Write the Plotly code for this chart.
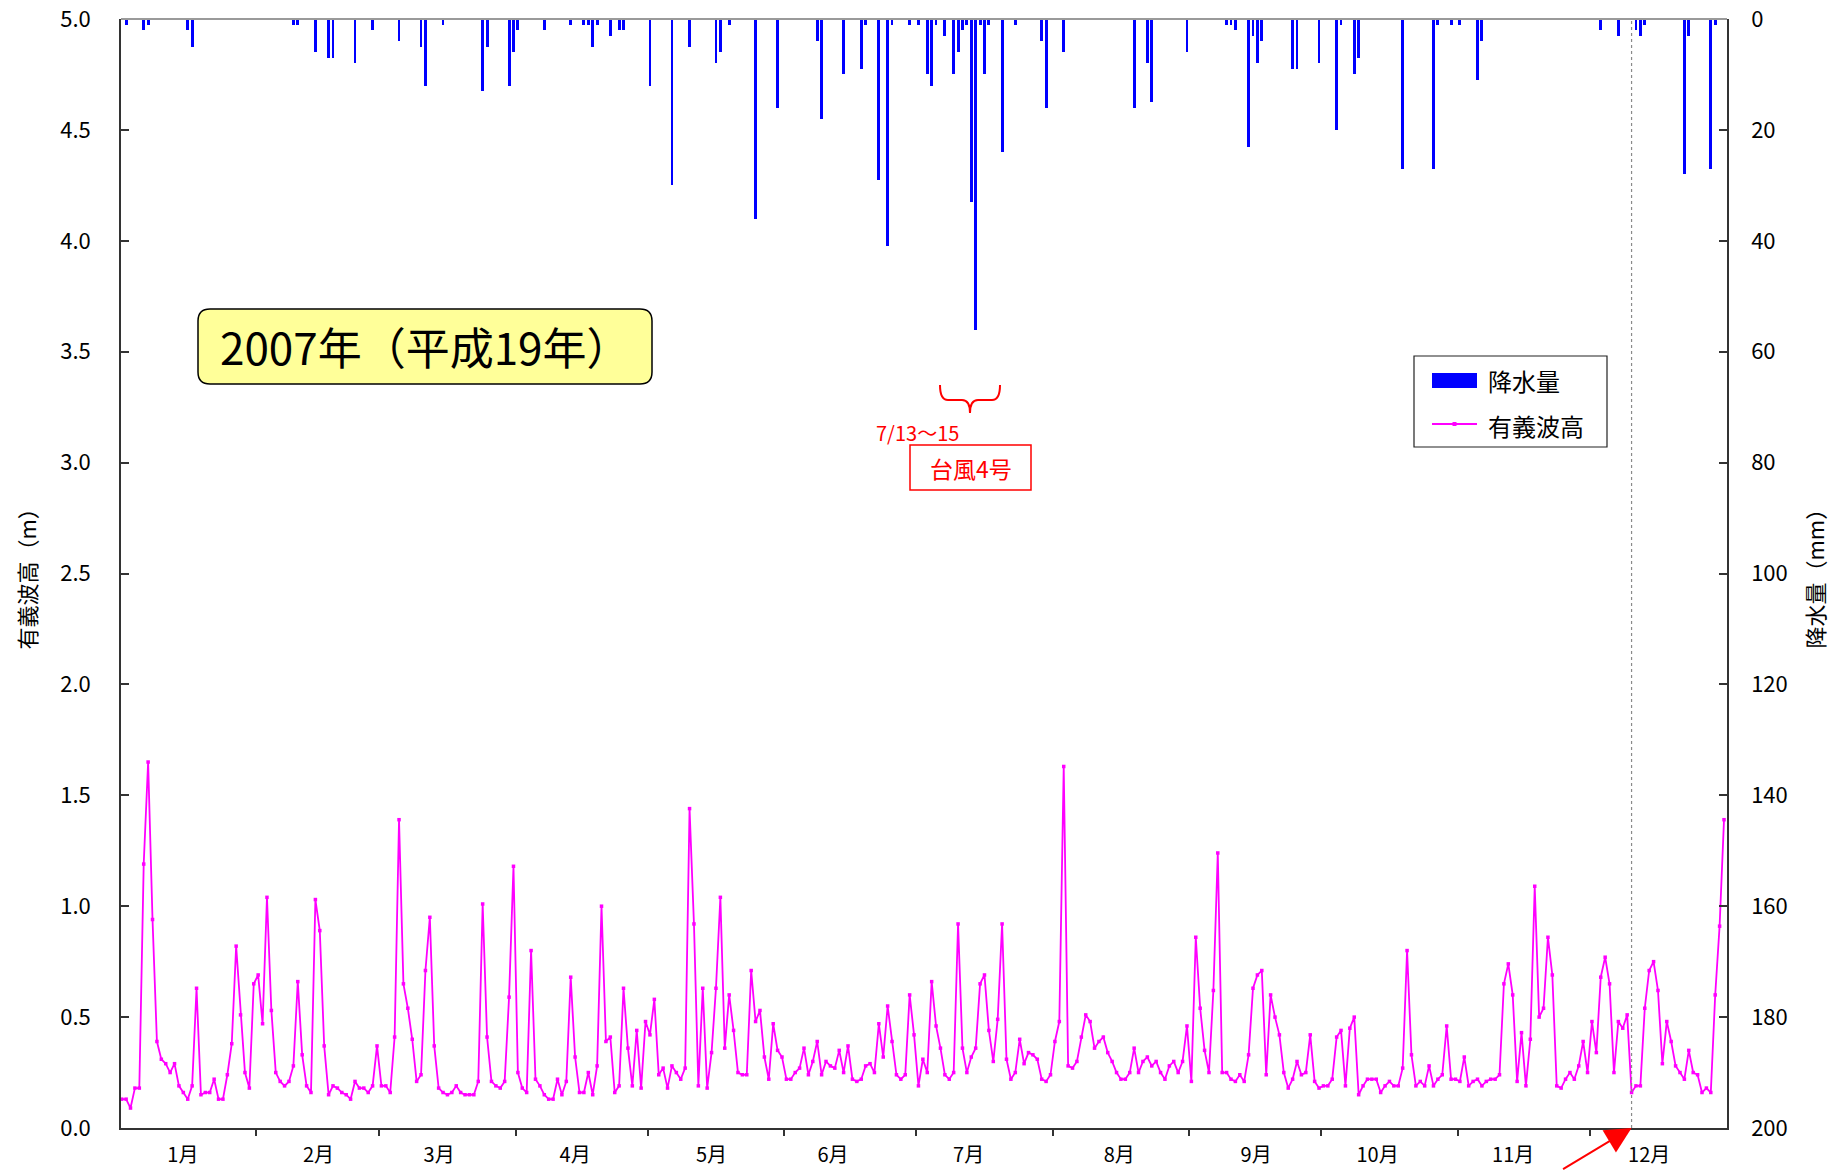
import plotly.graph_objects as go

# ---------------- data ----------------
month_labels = ["1月", "2月", "3月", "4月", "5月", "6月", "7月", "8月", "9月", "10月", "11月", "12月"]
month_days = [31, 28, 31, 30, 31, 30, 31, 31, 30, 31, 30, 31]
# where each month label sits (day-of-year position, as placed in the original)
month_label_pos = [13.9, 44.7, 72.1, 103.0, 134.0, 161.6, 192.4, 226.6, 257.7, 285.3, 316.1, 347.0]

# daily significant wave height (m), 2007-01-01 .. 2007-12-31
wave_height = [
    0.13, 0.13, 0.09, 0.18, 0.18, 1.19, 1.65, 0.94, 0.39, 0.31,
    0.29, 0.25, 0.29, 0.19, 0.16, 0.13, 0.19, 0.63, 0.15, 0.16,
    0.16, 0.22, 0.13, 0.13, 0.24, 0.38, 0.82, 0.51, 0.25, 0.18,
    0.65, 0.69, 0.47, 1.04, 0.53, 0.25, 0.21, 0.19, 0.21, 0.28,
    0.66, 0.33, 0.19, 0.16, 1.03, 0.89, 0.37, 0.15, 0.19, 0.18,
    0.16, 0.15, 0.13, 0.21, 0.18, 0.18, 0.16, 0.19, 0.37, 0.19,
    0.19, 0.16, 0.41, 1.39, 0.65, 0.54, 0.40, 0.21, 0.24, 0.71,
    0.95, 0.37, 0.18, 0.16, 0.15, 0.16, 0.19, 0.16, 0.15, 0.15,
    0.15, 0.21, 1.01, 0.41, 0.21, 0.19, 0.18, 0.21, 0.59, 1.18,
    0.25, 0.18, 0.16, 0.80, 0.22, 0.19, 0.15, 0.13, 0.13, 0.22,
    0.15, 0.21, 0.68, 0.32, 0.16, 0.16, 0.25, 0.15, 0.28, 1.00,
    0.39, 0.41, 0.16, 0.19, 0.63, 0.36, 0.19, 0.44, 0.18, 0.48,
    0.42, 0.58, 0.24, 0.27, 0.18, 0.28, 0.25, 0.22, 0.27, 1.44,
    0.92, 0.19, 0.63, 0.18, 0.34, 0.63, 1.04, 0.36, 0.60, 0.44,
    0.25, 0.24, 0.24, 0.71, 0.48, 0.53, 0.32, 0.22, 0.47, 0.35,
    0.32, 0.22, 0.22, 0.25, 0.27, 0.36, 0.24, 0.30, 0.39, 0.24,
    0.30, 0.28, 0.27, 0.35, 0.25, 0.37, 0.22, 0.21, 0.22, 0.28,
    0.29, 0.25, 0.47, 0.32, 0.55, 0.39, 0.24, 0.22, 0.24, 0.60,
    0.42, 0.19, 0.31, 0.25, 0.66, 0.46, 0.36, 0.24, 0.22, 0.25,
    0.92, 0.36, 0.25, 0.32, 0.36, 0.65, 0.69, 0.44, 0.30, 0.49,
    0.92, 0.31, 0.22, 0.25, 0.40, 0.29, 0.34, 0.33, 0.31, 0.22,
    0.21, 0.24, 0.39, 0.48, 1.63, 0.28, 0.27, 0.30, 0.41, 0.51,
    0.48, 0.36, 0.39, 0.41, 0.34, 0.30, 0.25, 0.22, 0.22, 0.25,
    0.36, 0.25, 0.30, 0.32, 0.28, 0.30, 0.25, 0.22, 0.28, 0.30,
    0.25, 0.30, 0.46, 0.21, 0.86, 0.54, 0.35, 0.25, 0.62, 1.24,
    0.25, 0.25, 0.22, 0.21, 0.24, 0.21, 0.33, 0.63, 0.69, 0.71,
    0.24, 0.60, 0.50, 0.42, 0.25, 0.18, 0.22, 0.30, 0.24, 0.25,
    0.42, 0.21, 0.18, 0.19, 0.19, 0.22, 0.41, 0.44, 0.19, 0.45,
    0.50, 0.15, 0.19, 0.22, 0.22, 0.22, 0.16, 0.19, 0.21, 0.19,
    0.19, 0.27, 0.80, 0.33, 0.19, 0.21, 0.19, 0.28, 0.19, 0.22,
    0.24, 0.46, 0.22, 0.22, 0.21, 0.32, 0.19, 0.21, 0.22, 0.19,
    0.21, 0.22, 0.22, 0.24, 0.65, 0.74, 0.60, 0.21, 0.43, 0.19,
    0.40, 1.09, 0.50, 0.54, 0.86, 0.69, 0.19, 0.18, 0.22, 0.25,
    0.22, 0.28, 0.39, 0.25, 0.48, 0.34, 0.68, 0.77, 0.65, 0.25,
    0.48, 0.45, 0.51, 0.16, 0.19, 0.19, 0.54, 0.71, 0.75, 0.62,
    0.29, 0.48, 0.39, 0.28, 0.25, 0.22, 0.35, 0.25, 0.24, 0.16,
    0.18, 0.16, 0.60, 0.91, 1.39,
]

# daily precipitation (mm): day-of-year index (0 = Jan 1) and amount
rain_day = [1, 5, 6, 15, 16, 39, 40, 44, 47, 48, 53, 57, 63, 68, 69, 73,
            82, 83, 88, 89, 90, 96, 102, 105, 106, 107, 108, 111, 113, 114,
            120, 125, 129, 135, 136, 138, 144, 149, 158, 159, 164, 168, 169,
            172, 174, 175, 179, 181, 183, 184, 185, 187, 189, 190, 191, 192,
            193, 194, 195, 196, 197, 200, 203, 209, 210, 214, 230, 233, 234,
            242, 251, 252, 253, 256, 257, 258, 259, 266, 267, 272, 276, 277,
            280, 281, 291, 298, 299, 302, 304, 308, 309, 336, 340, 344, 345,
            346, 355, 356, 361, 362]
rain_mm = [1.0, 2.0, 1.0, 2.0, 5.0, 1.0, 1.0, 6.0, 7.0, 7.0, 8.0, 2.0, 4.0, 5.0, 12.0, 1.0,
           13.0, 5.0, 12.0, 6.0, 2.0, 2.0, 1.0, 1.0, 1.0, 5.0, 1.0, 3.0, 2.0, 2.0,
           12.0, 30.0, 5.0, 8.0, 6.0, 1.0, 36.0, 16.0, 4.0, 18.0, 10.0, 9.0, 1.0,
           29.0, 41.0, 1.0, 1.0, 1.0, 10.0, 12.0, 1.0, 3.0, 10.0, 6.0, 2.0, 1.0,
           33.0, 56.0, 1.0, 10.0, 1.0, 24.0, 1.0, 4.0, 16.0, 6.0, 16.0, 8.0, 15.0,
           6.0, 1.0, 1.0, 2.0, 23.0, 3.0, 8.0, 4.0, 9.0, 9.0, 8.0, 20.0, 1.0,
           10.0, 7.0, 27.0, 27.0, 1.0, 1.0, 1.0, 11.0, 4.0, 2.0, 3.0, 2.0, 3.0,
           1.0, 28.0, 3.0, 27.0, 1.0]

wave_left_ticks = [0.0, 0.5, 1.0, 1.5, 2.0, 2.5, 3.0, 3.5, 4.0, 4.5, 5.0]
rain_right_ticks = [0, 20, 40, 60, 80, 100, 120, 140, 160, 180, 200]
marker_day = 343           # dotted reference line (12/10)
typhoon_label = "台風4号"
typhoon_dates = "7/13～15"
title_text = "2007年（平成19年）"

# ---------------- layout geometry ----------------
W, H = 1830, 1170
ML, MR, MT, MB = 121, 103, 19, 42
PW, PH = W - ML - MR, H - MT - MB
XR = [-0.16, 364.68]
YR = [0, 5]


def px_x(X):
    return XR[0] + (X - ML) / PW * (XR[1] - XR[0])


def px_y(Y):
    return YR[0] + (MT + PH - Y) / PH * (YR[1] - YR[0])


days = list(range(len(wave_height)))
starts = []
s = 0
for d in month_days:
    starts.append(s)
    s += d
month_bounds = [st - 0.5 for st in starts[1:]]

FONT = "Noto Sans CJK JP, Noto Sans, sans-serif"

fig = go.Figure()
fig.add_trace(go.Bar(x=rain_day, y=rain_mm, yaxis="y2", name="降水量",
                     marker=dict(color="#0000FF", line=dict(width=0)),
                     width=0.65, showlegend=False))
fig.add_trace(go.Scatter(x=days, y=wave_height, name="有義波高", mode="lines+markers",
                         line=dict(color="#FF00FF", width=1.8),
                         marker=dict(symbol="square", size=3.5, color="#FF00FF"),
                         showlegend=False))

axis_col = "#333333"
fig.update_layout(
    width=W, height=H,
    margin=dict(l=ML, r=MR, t=MT, b=MB, pad=0, autoexpand=False),
    paper_bgcolor="white", plot_bgcolor="white",
    font=dict(family=FONT, size=21, color="black"),
    bargap=0,
    xaxis=dict(range=XR, tickvals=month_label_pos, ticktext=month_labels, ticks="",
               showgrid=False, zeroline=False, showline=True, linecolor=axis_col,
               linewidth=1.5, tickfont=dict(size=20), ticklabelstandoff=8, automargin=False,
               minor=dict(tickmode="array", tickvals=month_bounds, ticks="outside",
                          ticklen=6, tickcolor=axis_col, tickwidth=1.5, showgrid=False)),
    yaxis=dict(range=YR, tickvals=wave_left_ticks, tickformat=".1f", ticks="inside",
               ticklen=8, tickcolor=axis_col, tickwidth=1.5, showgrid=False,
               zeroline=False, showline=True, linecolor=axis_col, linewidth=1.5,
               tickfont=dict(size=22), ticklabelstandoff=24, automargin=False),
    yaxis2=dict(range=[200, 0], tickvals=rain_right_ticks, overlaying="y", side="right",
                ticks="inside", ticklen=8, tickcolor=axis_col, tickwidth=1.5,
                showgrid=False, zeroline=False, showline=True, linecolor=axis_col,
                linewidth=1.5, tickfont=dict(size=22), ticklabelstandoff=18, automargin=False),
)

shapes = []
# top border
shapes.append(dict(type="line", xref="paper", yref="paper", x0=0, x1=1, y0=1, y1=1,
                   line=dict(color="#9a9a9a", width=2)))
# dotted reference line
shapes.append(dict(type="line", xref="x", yref="paper", x0=marker_day, x1=marker_day,
                   y0=0, y1=1, line=dict(color="#8a8a8a", width=1.2, dash="dot")))


def rounded_rect(X0, Y0, X1, Y1, r):
    pts = [
        f"M {px_x(X0 + r)},{px_y(Y0)}",
        f"L {px_x(X1 - r)},{px_y(Y0)}",
        f"Q {px_x(X1)},{px_y(Y0)} {px_x(X1)},{px_y(Y0 + r)}",
        f"L {px_x(X1)},{px_y(Y1 - r)}",
        f"Q {px_x(X1)},{px_y(Y1)} {px_x(X1 - r)},{px_y(Y1)}",
        f"L {px_x(X0 + r)},{px_y(Y1)}",
        f"Q {px_x(X0)},{px_y(Y1)} {px_x(X0)},{px_y(Y1 - r)}",
        f"L {px_x(X0)},{px_y(Y0 + r)}",
        f"Q {px_x(X0)},{px_y(Y0)} {px_x(X0 + r)},{px_y(Y0)} Z",
    ]
    return " ".join(pts)


shapes.append(dict(type="path", xref="x", yref="y", path=rounded_rect(198, 309, 652, 384, 12),
                   fillcolor="#FFFF99", line=dict(color="black", width=1.5), layer="above"))

# typhoon brace
bl, bc, br = 940, 970, 1000
bt, bm, bb = 385, 400, 413
brace = " ".join([
    f"M {px_x(bl)},{px_y(bt)}",
    f"Q {px_x(bl)},{px_y(bm)} {px_x(bl + 8)},{px_y(bm)}",
    f"L {px_x(bc - 8)},{px_y(bm)}",
    f"Q {px_x(bc)},{px_y(bm)} {px_x(bc)},{px_y(bb)}",
    f"Q {px_x(bc)},{px_y(bm)} {px_x(bc + 8)},{px_y(bm)}",
    f"L {px_x(br - 8)},{px_y(bm)}",
    f"Q {px_x(br)},{px_y(bm)} {px_x(br)},{px_y(bt)}",
])
shapes.append(dict(type="path", xref="x", yref="y", path=brace,
                   line=dict(color="#FF0000", width=2)))
# typhoon label box
shapes.append(dict(type="rect", xref="x", yref="y", x0=px_x(910), x1=px_x(1031),
                   y0=px_y(490), y1=px_y(445), fillcolor="white",
                   line=dict(color="#FF0000", width=1.5)))

# custom legend
LX0, LY0, LX1, LY1 = 1414, 356, 1607, 447
shapes.append(dict(type="rect", xref="x", yref="y", x0=px_x(LX0), x1=px_x(LX1),
                   y0=px_y(LY1), y1=px_y(LY0), fillcolor="white",
                   line=dict(color="#222222", width=1.2)))
shapes.append(dict(type="rect", xref="x", yref="y", x0=px_x(1432), x1=px_x(1477),
                   y0=px_y(388), y1=px_y(373), fillcolor="#0000FF", line=dict(width=0)))
shapes.append(dict(type="line", xref="x", yref="y", x0=px_x(1432), x1=px_x(1477),
                   y0=px_y(424), y1=px_y(424), line=dict(color="#FF00FF", width=1.8)))
shapes.append(dict(type="rect", xref="x", yref="y", x0=px_x(1452.5), x1=px_x(1456.5),
                   y0=px_y(426), y1=px_y(422), fillcolor="#FF00FF", line=dict(width=0)))

annotations = [
    dict(xref="x", yref="y", x=px_x(425), y=px_y(346), text=title_text, showarrow=False,
         font=dict(size=44, color="black"), xanchor="center", yanchor="middle"),
    dict(xref="x", yref="y", x=px_x(917), y=px_y(432), text=typhoon_dates, showarrow=False,
         font=dict(size=20, color="#FF0000"), xanchor="center", yanchor="middle"),
    dict(xref="x", yref="y", x=px_x(970.5), y=px_y(467.5), text=typhoon_label, showarrow=False,
         font=dict(size=23, color="#FF0000"), xanchor="center", yanchor="middle"),
    dict(xref="x", yref="y", x=px_x(1486), y=px_y(380), text="降水量", showarrow=False,
         font=dict(size=24), xanchor="left", yanchor="middle"),
    dict(xref="x", yref="y", x=px_x(1486), y=px_y(425), text="有義波高", showarrow=False,
         font=dict(size=24), xanchor="left", yanchor="middle"),
    dict(xref="paper", yref="paper", x=(25 - ML) / PW, y=0.5, text="有義波高（m）",
         textangle=-90, showarrow=False, font=dict(size=22), xanchor="center", yanchor="middle"),
    dict(xref="paper", yref="paper", x=(1813 - ML) / PW, y=0.5, text="降水量（mm）",
         textangle=-90, showarrow=False, font=dict(size=22), xanchor="center", yanchor="middle"),
    dict(xref="x", yref="paper", x=marker_day, y=0, text="", showarrow=True,
         ax=-70, ay=54, arrowhead=2, arrowsize=2.6, arrowwidth=2, arrowcolor="#FF0000"),
]

fig.update_layout(shapes=shapes, annotations=annotations)
fig.write_html("out.html", config={"displayModeBar": False},
               post_script="document.body.style.margin='0';")
